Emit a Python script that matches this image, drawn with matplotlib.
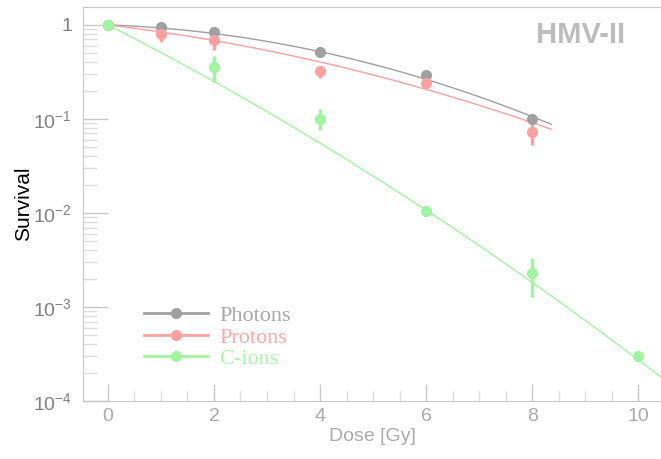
import numpy as np
import matplotlib.pyplot as plt
from matplotlib.ticker import FixedLocator, FixedFormatter, LogLocator, MultipleLocator, NullFormatter

# --- measured survival fractions ---
dose_ph = [0, 1, 2, 4, 6, 8]
surv_ph = [1.0, 0.95, 0.84, 0.52, 0.29, 0.10]
lo_ph = [1.0, 0.90, 0.80, 0.50, 0.28, 0.095]
hi_ph = [1.0, 0.99, 0.88, 0.54, 0.30, 0.105]

dose_pr = [0, 1, 2, 4, 6, 8]
surv_pr = [1.0, 0.80, 0.69, 0.32, 0.24, 0.073]
lo_pr = [1.0, 0.66, 0.54, 0.27, 0.22, 0.053]
hi_pr = [1.0, 0.93, 0.82, 0.36, 0.26, 0.088]

dose_c = [0, 2, 4, 6, 8, 10]
surv_c = [1.0, 0.357, 0.10, 0.0105, 0.0023, 0.0003]
lo_c = [1.0, 0.25, 0.076, 0.0100, 0.00128, 0.00029]
hi_c = [1.0, 0.47, 0.128, 0.0110, 0.0033, 0.00031]

# --- linear-quadratic fit parameters (alpha, beta, max dose) ---
fit_ph = (0.047, 0.0292, 8.36)
fit_pr = (0.155, 0.018, 8.36)
fit_c = (0.66, 0.016, 10.6)

labels = ["Photons", "Protons", "C-ions"]
colors = ["#a0a0a0", "#ffa0a0", "#a0f5a0"]
text_colors = ["#a8a8a8", "#ffa8a8", "#a8f8a8"]

plt.rcParams["font.family"] = ["Liberation Sans", "DejaVu Sans"]
plt.rcParams["mathtext.default"] = "regular"

fig = plt.figure(figsize=(6.61, 4.59), dpi=100)
ax = fig.add_axes([83 / 661, 1 - 401 / 459, (661 - 83) / 661, (401 - 7) / 459])

series = [
    (dose_ph, surv_ph, lo_ph, hi_ph, fit_ph),
    (dose_pr, surv_pr, lo_pr, hi_pr, fit_pr),
    (dose_c, surv_c, lo_c, hi_c, fit_c),
]
handles = []
for (d, s, lo, hi, (a, b, dmax)), col, lab in zip(series, colors, labels):
    s = np.array(s)
    yerr = [s - np.array(lo), np.array(hi) - s]
    dd = np.linspace(0, dmax, 200)
    ax.plot(dd, np.exp(-a * dd - b * dd ** 2), color=col, lw=1.0, zorder=2)
    ax.errorbar(d, s, yerr=yerr, fmt="o", color=col, ms=7, elinewidth=2.5,
                capsize=0, zorder=3)
    h, = ax.plot([], [], "-o", color=col, lw=2, ms=7, label=lab)
    handles.append(h)

ax.set_yscale("log")
ax.set_xlim(-0.47, 10.43)
ax.set_ylim(1e-4, 1.55)

ax.yaxis.set_major_locator(FixedLocator([1e-4, 1e-3, 1e-2, 1e-1, 1]))
ax.yaxis.set_major_formatter(FixedFormatter(
    ["$10^{-4}$", "$10^{-3}$", "$10^{-2}$", "$10^{-1}$", "1"]))
ax.yaxis.set_minor_locator(LogLocator(base=10, subs=np.arange(2, 10)))
ax.yaxis.set_minor_formatter(NullFormatter())
ax.xaxis.set_major_locator(MultipleLocator(2))
ax.xaxis.set_minor_locator(MultipleLocator(0.5))

grey = "#c8c8c8"
for side in ["left", "bottom", "top"]:
    ax.spines[side].set_color(grey)
ax.spines["right"].set_visible(False)
ax.tick_params(axis="y", which="major", direction="in", length=18, width=1,
               color=grey, labelsize=14, labelcolor="#808080", pad=8)
ax.tick_params(axis="y", which="minor", direction="in", length=10, width=1,
               color="#dddddd")
ax.tick_params(axis="x", which="major", direction="in", length=12, width=1,
               color=grey, labelsize=14, labelcolor="#aaaaaa", pad=5)
ax.tick_params(axis="x", which="minor", direction="in", length=7, width=1,
               color="#dddddd")

ax.set_xlabel("Dose [Gy]", fontsize=14, color="#aaaaaa", labelpad=2)
ax.set_ylabel("Survival", fontsize=15, color="black", labelpad=0)

ax.text(0.938, 0.965, "HMV-II", transform=ax.transAxes, ha="right", va="top",
        fontsize=21, fontweight="bold", color="#bdbdbd")

leg = ax.legend(handles=handles, loc="lower left", bbox_to_anchor=(0.071, 0.03),
                frameon=False, handlelength=2.9, handletextpad=0.5,
                labelspacing=0.05, prop={"family": "Liberation Serif", "size": 16})
for t, c in zip(leg.get_texts(), text_colors):
    t.set_color(c)

fig.savefig("out.png", dpi=100)
